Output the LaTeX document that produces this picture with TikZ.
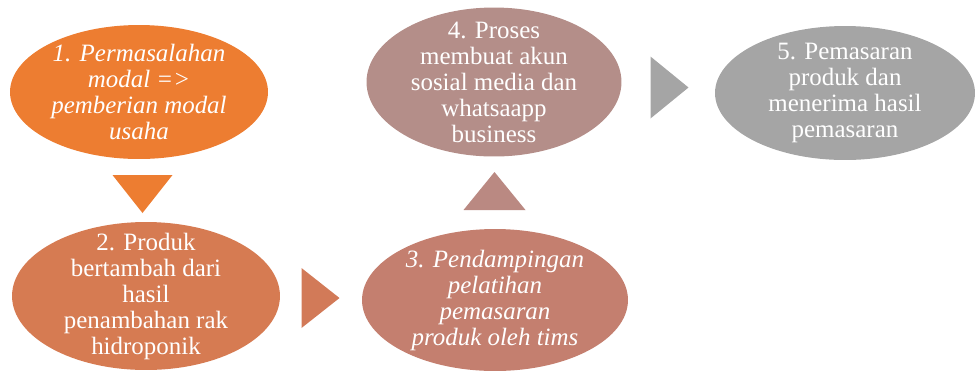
\documentclass[tikz,border=0pt]{standalone}
\usepackage{fontspec}
\setmainfont{Liberation Serif}
\usepackage{tikz}
\usetikzlibrary{shapes.geometric,calc}

\definecolor{stepA}{HTML}{ED7D31}
\definecolor{stepB}{HTML}{D67B52}
\definecolor{stepC}{HTML}{C47F6F}
\definecolor{stepD}{HTML}{B48E89}
\definecolor{stepE}{HTML}{A5A5A5}
\definecolor{arrB}{HTML}{D27A58}
\definecolor{arrC}{HTML}{BA8982}

\begin{document}
\begin{tikzpicture}[x=0.02cm,y=-0.02cm,
	blob/.style={shape=ellipse,fill=#1,draw=none,inner sep=0pt},
	txt/.style={align=center,text=white,font=\fontsize{14.2}{14.8}\selectfont},
	txtit/.style={txt,font=\fontsize{14.2}{14.8}\selectfont\itshape}]
	\useasboundingbox (0,0) rectangle (975,370);

	\node[blob=stepA,minimum width=5.16cm,minimum height=2.68cm] (e1) at (139,92)  {};
	\node[blob=stepB,minimum width=5.36cm,minimum height=2.96cm] (e2) at (146,296) {};
	\node[blob=stepC,minimum width=5.32cm,minimum height=2.84cm] (e3) at (495,300) {};
	\node[blob=stepD,minimum width=5.10cm,minimum height=2.98cm] (e4) at (494,82)  {};
	\node[blob=stepE,minimum width=5.20cm,minimum height=2.68cm] (e5) at (845,93)  {};

	\node[txtit] (t1) at (e1) {1. Permasalahan\\ modal =>\\ pemberian modal\\ usaha};
	\node[txt] (t2) at (e2) {2. Produk\\ bertambah dari\\ hasil\\ penambahan rak\\ hidroponik};
	\node[txtit] (t3) at (e3) {3. Pendampingan\\ pelatihan\\ pemasaran\\ produk oleh tims};
	\node[txt] (t4) at (e4) {4. Proses\\ membuat akun\\ sosial media dan\\ whatsaapp\\ business};
	\node[txt] (t5) at (e5) {5. Pemasaran\\ produk dan\\ menerima hasil\\ pemasaran};

	% arrows between the steps
	\coordinate (m12) at ($(e1)!0.5!(e2)$);
	\coordinate (m23) at ($(e2)!0.5!(e3)$);
	\coordinate (m34) at ($(e3)!0.5!(e4)$);
	\coordinate (m45) at ($(e4)!0.5!(e5)$);

	\fill[stepA] ($(m12)+(-30,-19)$) -- ($(m12)+(30,-19)$) -- ($(m12)+(0,19)$) -- cycle;
	\fill[arrB]  ($(m23)+(-19,30)$) -- ($(m23)+(-19,-30)$) -- ($(m23)+(19,0)$) -- cycle;
	\fill[arrC]  ($(m34)+(-31,19)$) -- ($(m34)+(31,19)$) -- ($(m34)+(0,-19)$) -- cycle;
	\fill[stepE] ($(m45)+(-19,31)$) -- ($(m45)+(-19,-31)$) -- ($(m45)+(19,0)$) -- cycle;
\end{tikzpicture}
\end{document}
